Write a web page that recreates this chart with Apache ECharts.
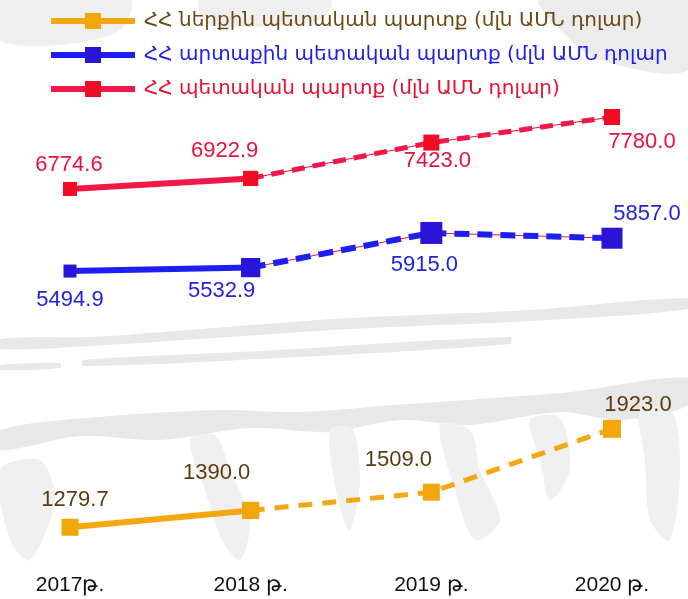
<!DOCTYPE html>
<html>
<head>
<meta charset="utf-8">
<script src="https://cdn.jsdelivr.net/npm/echarts@6/dist/echarts.min.js"></script>
<style>
  html, body { margin: 0; padding: 0; background: #fff; }
  #chart { width: 688px; height: 599px; }
</style>
</head>
<body>
<div id="chart"></div>
<script>
// data
const years = ['2017թ.', '2018 թ.', '2019 թ.', '2020 թ.'];
const domesticDebt = [1279.7, 1390.0, 1509.0, 1923.0];
const externalDebt = [5494.9, 5532.9, 5915.0, 5857.0];
const totalDebt = [6774.6, 6922.9, 7423.0, 7780.0];
const names = [
  'ՀՀ ներքին պետական պարտք (մլն ԱՄՆ դոլար)',
  'ՀՀ արտաքին պետական պարտք (մլն ԱՄՆ դոլար',
  'ՀՀ պետական պարտք (մլն ԱՄՆ դոլար)'
];

// label placement (offset from the point) and marker sizes
const domesticLabelPos = [[5, -27], [-34, -37], [-33, -32], [26, -24]];
const externalLabelPos = [[0, 29], [-29, 23], [-7, 32], [35, -24]];
const totalLabelPos = [[-1, -24], [-26, -27], [6, 18], [30, 25]];
const domesticSizes = [17, 17, 17, 18];
const externalSizes = [13, 19, 22, 21];
const totalSizes = [14, 15, 16, 16];

const colors = {
  domestic: { line: '#f3a812', mark: '#f2a60c', text: '#5b3c12', legend: '#6b4a16' },
  external: { line: '#1e1ef2', mark: '#2a14d8', text: '#2323dd', legend: '#2020e6' },
  total: { line: '#ef1848', mark: '#f00c22', text: '#e8123c', legend: '#ea1030' }
};

function points (values, from, to, pos, showFrom) {
  return values.map((v, i) => {
    if (i < from || i > to) return '-';
    return {
      value: v,
      label: { show: i >= showFrom, position: 'inside', offset: pos[i] }
    };
  });
}

function makeLine (name, values, yIdx, c, pos, sizes, dash, thin) {
  const base = {
    name: name,
    type: 'line',
    yAxisIndex: yIdx,
    symbol: 'rect',
    symbolSize: (v, p) => sizes[p.dataIndex],
    itemStyle: { color: c.mark },
    label: {
      color: c.text,
      fontSize: 22,
      fontFamily: 'Liberation Sans',
      formatter: p => p.value.toFixed(1)
    },
    animation: false
  };
  const out = [];
  out.push(Object.assign({}, base, {
    data: points(values, 0, 1, pos, 0),
    lineStyle: { color: c.line, width: 6 },
    z: 3
  }));
  if (thin) {
    out.push({
      type: 'line',
      yAxisIndex: yIdx,
      symbol: 'none',
      data: values.map((v, i) => i >= 1 ? v : '-'),
      lineStyle: { color: '#f0143c', width: 1 },
      z: 2,
      silent: true,
      animation: false
    });
  }
  out.push(Object.assign({}, base, {
    data: points(values, 1, 3, pos, 2),
    lineStyle: { color: c.line, width: dash.w, type: dash.pattern },
    z: 3
  }));
  return out;
}

// faint grey texture behind the chart
const bgFill = '#e8e8e8';
function blob (pts, fill) {
  return { type: 'polygon', z: 0, silent: true, shape: { points: pts, smooth: 0.3 }, style: { fill: fill || bgFill } };
}
const texture = [
  blob([[0, 339], [90, 337], [200, 329], [350, 318], [530, 310], [688, 298], [688, 309], [530, 321], [350, 329], [200, 339], [90, 346], [0, 349]]),
  blob([[83, 360], [260, 351], [510, 337], [510, 344], [260, 359], [83, 366]]),
  blob([[0, 365], [60, 363], [60, 368], [0, 370]]),
  blob([[0, 430], [110, 416], [220, 410], [300, 412], [395, 405], [570, 392], [688, 378], [688, 405], [620, 420], [560, 412], [470, 425], [400, 420], [330, 432], [250, 428], [160, 440], [80, 436], [0, 450]]),
  blob([[190, 440], [215, 435], [230, 470], [250, 520], [240, 560], [222, 540], [205, 490]], '#f0f0f0'),
  blob([[330, 430], [352, 428], [360, 480], [350, 530], [338, 500]], '#f0f0f0'),
  blob([[440, 425], [470, 430], [480, 470], [500, 520], [475, 540], [455, 490]], '#f0f0f0'),
  blob([[530, 420], [560, 418], [570, 470], [550, 500], [540, 460]], '#f0f0f0'),
  blob([[640, 410], [672, 412], [680, 470], [670, 540], [650, 520], [645, 460]], '#f0f0f0'),
  blob([[0, 470], [40, 460], [55, 500], [30, 560], [10, 540]], '#f0f0f0'),
  blob([[0, 0], [130, 0], [120, 30], [60, 45], [0, 40]], '#efefef'),
  blob([[540, 0], [688, 0], [688, 70], [600, 60], [560, 30]], '#ececec'),
  blob([[200, 0], [330, 0], [320, 20], [210, 25]], '#efefef')
];

const chart = echarts.init(document.getElementById('chart'));
chart.setOption({
  backgroundColor: '#fff',
  graphic: texture,
  legend: {
    orient: 'vertical',
    left: 43,
    top: 6,
    itemWidth: 84,
    itemHeight: 20,
    itemGap: 14,
    lineStyle: { width: 6 },
    data: [
      { name: names[0], textStyle: { color: colors.domestic.legend } },
      { name: names[1], textStyle: { color: colors.external.legend } },
      { name: names[2], textStyle: { color: colors.total.legend } }
    ],
    textStyle: { fontSize: 20, fontFamily: 'DejaVu Sans', padding: [0, 0, 0, 4] }
  },
  grid: { left: 70, right: 76, top: 100, bottom: 39 },
  xAxis: {
    type: 'category',
    boundaryGap: false,
    data: years,
    axisLine: { show: false },
    axisTick: { show: false },
    axisLabel: {
      color: '#111',
      fontSize: 21,
      fontFamily: 'Liberation Sans',
      margin: 15
    }
  },
  yAxis: [
    { type: 'value', show: false, min: 1066, max: 4071 },
    { type: 'value', show: false, min: 2309, max: 7381 },
    { type: 'value', show: false, min: 1593, max: 8018 }
  ],
  series: [].concat(
    makeLine(names[0], domesticDebt, 0, colors.domestic, domesticLabelPos, domesticSizes,
      { w: 5, pattern: [14, 10] }, false),
    makeLine(names[1], externalDebt, 1, colors.external, externalLabelPos, externalSizes,
      { w: 6, pattern: [15, 8] }, true),
    makeLine(names[2], totalDebt, 2, colors.total, totalLabelPos, totalSizes,
      { w: 5, pattern: [13, 8] }, true)
  )
});
</script>
</body>
</html>
